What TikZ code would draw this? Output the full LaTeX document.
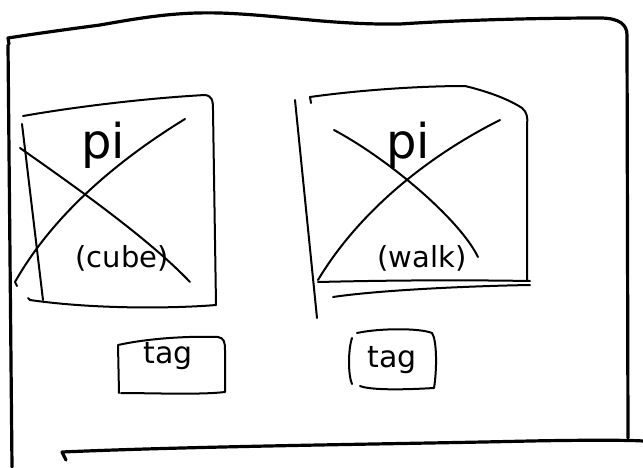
\documentclass[tikz,border=0pt]{standalone}
\usepackage{fontspec}
\setmainfont{DejaVu Sans}
\begin{document}
\begin{tikzpicture}[x=1pt,y=-1pt,
  frame/.style={line width=3.2pt,line cap=round,line join=round},
  sketch/.style={line width=2pt,line cap=round,line join=round},
  bigtxt/.style={font=\fontsize{48}{48}\selectfont,inner sep=0pt},
  smalltxt/.style={font=\fontsize{29}{29}\selectfont,inner sep=0pt},
  tagtxt/.style={font=\fontsize{30}{30}\selectfont,inner sep=0pt}]
\useasboundingbox (0,0) rectangle (643,467);
% outer frame
\draw[frame] (9,44) -- (8,38) .. controls (40,33) and (70,29) .. (100,25)
  .. controls (150,16) and (180,12) .. (220,13)
  .. controls (280,15) and (330,25) .. (400,24)
  .. controls (460,20) and (540,18) .. (600,18)
  .. controls (620,18) and (627,25) .. (627,35) -- (628,438);
\draw[frame] (8,45) -- (12,467);
\draw[frame] (66,460) -- (62,452) .. controls (200,446) and (400,444) .. (530,441)
  .. controls (580,440) and (630,440) .. (643,441);
% left box
\draw[sketch] (23,116) .. controls (80,106) and (150,98) .. (205,95) .. controls (212,96) and (213,100) .. (213,110)
  -- (216,305) .. controls (180,308) and (100,310) .. (30,300) -- (28,298);
\draw[sketch] (22,124) -- (43,300);
\draw[sketch] (20,148) .. controls (80,190) and (150,240) .. (190,282);
\draw[sketch] (185,119) .. controls (110,165) and (50,220) .. (15,282) -- (17,286);
\node[bigtxt] (pia) at (103,145) {pi};
\node[smalltxt] (cube) at (122,258) {(cube)};
% left tag
\draw[sketch] (119,393) -- (118,345) .. controls (150,338) and (190,336) .. (218,337)
  .. controls (224,338) and (225,342) .. (225,350) -- (225,392) .. controls (200,395) and (150,393) .. (121,393);
\node[tagtxt] (taga) at (168,356) {tag};
% right box
\draw[sketch] (311,103) -- (310,97) .. controls (360,90) and (420,86) .. (465,86)
  .. controls (490,92) and (510,100) .. (522,108) .. controls (527,112) and (528,118) .. (527,125)
  -- (527,280);
\draw[sketch] (318,282) .. controls (400,280) and (470,280) .. (530,281);
\draw[sketch] (333,297) .. controls (380,290) and (470,286) .. (530,285);
\draw[sketch] (295,100) -- (317,318);
\draw[sketch] (334,130) .. controls (390,160) and (460,220) .. (478,257);
\draw[sketch] (500,120) .. controls (430,155) and (360,210) .. (318,280);
\node[bigtxt] (pib) at (408,145) {pi};
\node[smalltxt] (walk) at (422,258) {(walk)};
% right tag
\draw[sketch] (352,338) .. controls (348,350) and (348,375) .. (352,384);
\draw[sketch] (357,333) .. controls (380,328) and (420,328) .. (432,333)
  .. controls (437,340) and (437,370) .. (434,388) .. controls (400,390) and (370,390) .. (360,386);
\node[tagtxt] (tagb) at (392,360) {tag};
\end{tikzpicture}
\end{document}
